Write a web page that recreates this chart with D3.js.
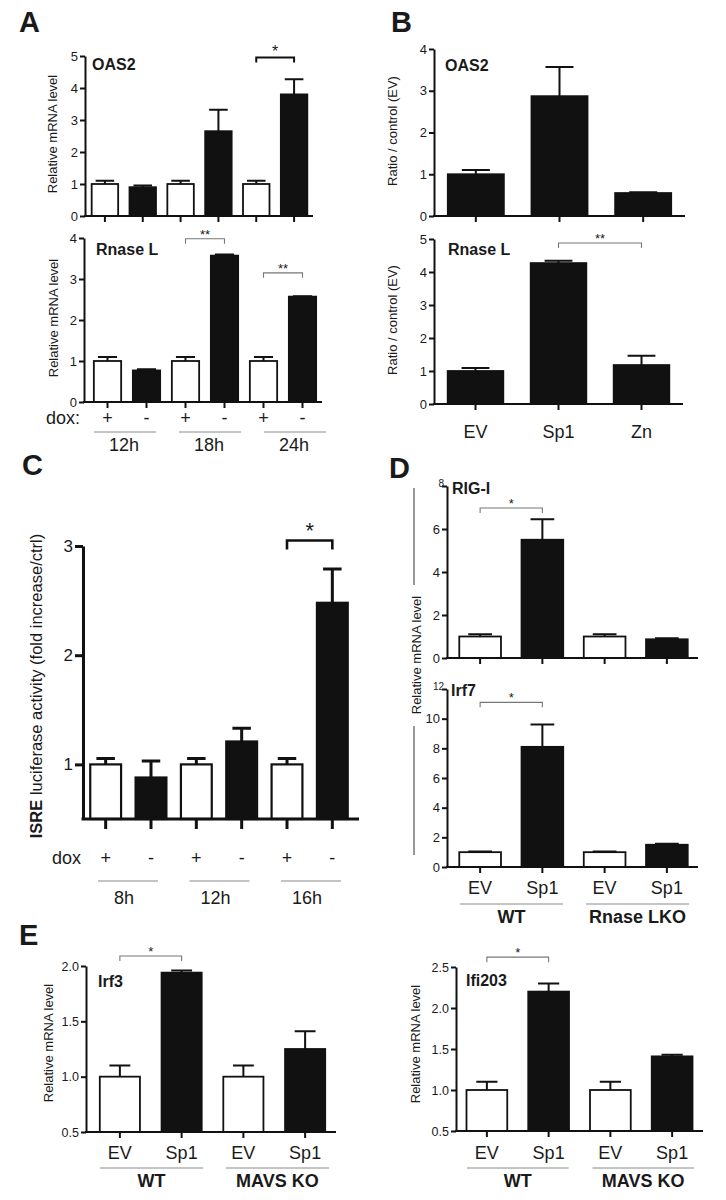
<!DOCTYPE html>
<html>
<head>
<meta charset="utf-8">
<script src="https://cdn.jsdelivr.net/npm/d3@7"></script>
<style>
  body { margin: 0; background: #fff; }
  svg { display: block; }
  text { font-family: "Liberation Sans", Arial, Helvetica, sans-serif; fill: #1a1a1a; }
</style>
</head>
<body>
<div id="fig"></div>
<script>
// ---- data ----
// A
const doxA = ["+", "-", "+", "-", "+", "-"];
const timesA = ["12h", "18h", "24h"];
const oas2A = [1.0, 0.9, 1.0, 2.65, 1.0, 3.8];
const oas2AErr = [0.1, 0.05, 0.1, 0.67, 0.1, 0.47];
const rnaseA = [1.0, 0.77, 1.0, 3.57, 1.0, 2.57];
const rnaseAErr = [0.1, 0.03, 0.1, 0.03, 0.1, 0.01];
// B
const catsB = ["EV", "Sp1", "Zn"];
const oas2B = [1.0, 2.87, 0.55];
const oas2BErr = [0.1, 0.7, 0.02];
const rnaseB = [1.0, 4.27, 1.18];
const rnaseBErr = [0.09, 0.07, 0.28];
// C
const doxC = ["+", "-", "+", "-", "+", "-"];
const timesC = ["8h", "12h", "16h"];
const isreC = [1.0, 0.88, 1.0, 1.21, 1.0, 2.48];
const isreCErr = [0.055, 0.15, 0.055, 0.12, 0.055, 0.31];
// D
const catsD = ["EV", "Sp1", "EV", "Sp1"];
const groupsD = ["WT", "Rnase LKO"];
const rigD = [1.0, 5.5, 1.0, 0.87];
const rigDErr = [0.1, 0.95, 0.1, 0.05];
const irf7D = [1.0, 8.1, 1.0, 1.5];
const irf7DErr = [0.04, 1.5, 0.04, 0.06];
// E
const catsE = ["EV", "Sp1", "EV", "Sp1"];
const groupsE = ["WT", "MAVS KO"];
const irf3E = [1.0, 1.94, 1.0, 1.25];
const irf3EErr = [0.1, 0.02, 0.1, 0.16];
const ifiE = [1.0, 2.2, 1.0, 1.41];
const ifiEErr = [0.1, 0.1, 0.1, 0.02];

// significance brackets: bar index from, to, height (data units), label
const sigOas2A = [{a: 4, b: 5, at: 4.95, label: "*"}];
const sigRnaseA = [{a: 2, b: 3, at: 3.98, label: "**"}, {a: 4, b: 5, at: 3.15, label: "**"}];
const sigRnaseB = [{a: 1, b: 2, at: 4.88, label: "**"}];
const sigC = [{a: 4, b: 5, at: 3.05, label: "*"}];
const sigRigD = [{a: 0, b: 1, at: 6.98, label: "*"}];
const sigIrf7D = [{a: 0, b: 1, at: 11.1, label: "*"}];
const sigIrf3E = [{a: 0, b: 1, at: 2.09, label: "*"}];
const sigIfiE = [{a: 0, b: 1, at: 2.62, label: "*"}];

const width = 726, height = 1200;
const ink = "#111";

const svg = d3.select("#fig").append("svg")
  .attr("width", width)
  .attr("height", height);

const whiteIf = v => (v === "+" || v === "EV") ? "#fff" : ink;

// one bar chart with y axis, bottom axis line, error bars, title and brackets
function drawPanel(p) {
  const x = d3.scaleBand().domain(d3.range(p.vals.length))
    .range(p.xr).paddingInner(p.pad).paddingOuter(p.pad / 2);
  const y = d3.scaleLinear().domain(p.domain).range(p.yr);
  const cx = i => x(i) + x.bandwidth() / 2;
  const base = p.yr[0];
  const g = svg.append("g");

  g.selectAll(".bar").data(p.vals).enter().append("rect")
    .attr("x", (d, i) => x(i))
    .attr("y", d => y(d))
    .attr("width", x.bandwidth())
    .attr("height", d => base - y(d))
    .attr("fill", (d, i) => p.fill(i))
    .attr("stroke", ink)
    .attr("stroke-width", p.bw || 1.8);

  const cap = x.bandwidth() * p.cap;
  g.selectAll(".err").data(p.vals).enter().append("path")
    .attr("d", (d, i) => {
      const t = y(d + p.errs[i]);
      return `M${cx(i)},${y(d)}V${t}M${cx(i) - cap / 2},${t}H${cx(i) + cap / 2}`;
    })
    .attr("fill", "none")
    .attr("stroke", ink)
    .attr("stroke-width", p.lw);

  // y axis
  const ya = g.append("g")
    .attr("transform", `translate(${p.ax},0)`)
    .call(d3.axisLeft(y).tickValues(p.ticks).tickFormat(p.fmt || d3.format("d"))
      .tickSize(p.tick || 5).tickSizeOuter(0).tickPadding(2));
  ya.selectAll("path, line").attr("stroke", ink).attr("stroke-width", p.lw);
  ya.selectAll("text").attr("font-size", p.fs || 13);
  if (p.smallTop) {
    ya.selectAll(".tick text").filter(d => d === p.domain[1])
      .attr("font-size", 10).attr("dy", "0").attr("x", -3);
  }

  // x axis: ticks at bar centres
  const xa = g.append("g")
    .attr("transform", `translate(0,${base})`)
    .call(d3.axisBottom(x).tickFormat("").tickSize(p.xtick || 6).tickSizeOuter(0));
  xa.select(".domain").remove();
  xa.selectAll("line").attr("stroke", ink).attr("stroke-width", p.lw);
  g.append("line")
    .attr("x1", p.ax - p.lw / 2).attr("x2", p.axEnd)
    .attr("y1", base).attr("y2", base)
    .attr("stroke", ink).attr("stroke-width", p.lw);

  if (p.title) {
    g.append("text").attr("x", p.title[1]).attr("y", p.title[2])
      .attr("font-size", 16).attr("font-weight", "bold").text(p.title[0]);
  }

  (p.sig || []).forEach(s => {
    const yb = y(s.at);
    g.append("path")
      .attr("d", `M${cx(s.a)},${yb + p.sigDrop}V${yb}H${cx(s.b)}V${yb + p.sigDrop}`)
      .attr("fill", "none")
      .attr("stroke", p.sigColor)
      .attr("stroke-width", p.sigW);
    g.append("text")
      .attr("x", (cx(s.a) + cx(s.b)) / 2)
      .attr("y", yb + p.starDy)
      .attr("text-anchor", "middle")
      .attr("font-size", p.starFs)
      .text(s.label);
  });

  return {x, y, cx};
}

function rowText(labels, xf, yy, fs, weight) {
  svg.append("g").selectAll("text").data(labels).enter().append("text")
    .attr("x", (d, i) => xf(i))
    .attr("y", yy)
    .attr("text-anchor", "middle")
    .attr("font-size", fs)
    .attr("font-weight", weight || "normal")
    .text(d => d);
}

function groupLines(scale, labels, yy) {
  svg.append("g").selectAll("line").data(labels).enter().append("line")
    .attr("x1", d => scale(d)).attr("x2", d => scale(d) + scale.bandwidth())
    .attr("y1", yy).attr("y2", yy)
    .attr("stroke", "#8a8a8a").attr("stroke-width", 1.2);
}

function yLabel(txt, x, yc, fs) {
  return svg.append("text")
    .attr("transform", `translate(${x},${yc}) rotate(-90)`)
    .attr("text-anchor", "middle")
    .attr("font-size", fs)
    .text(txt);
}

function letter(t, x, y) {
  svg.append("text").attr("x", x).attr("y", y)
    .attr("font-size", 29).attr("font-weight", "bold").text(t);
}

const blackSig = {sigColor: ink, sigW: 2, sigDrop: 5, starDy: -1, starFs: 16};
const graySig = {sigColor: "#777", sigW: 1.1, sigDrop: 5, starDy: 0, starFs: 13};

// ---------- A ----------
letter("A", 19, 32);
drawPanel(Object.assign({
  vals: oas2A, errs: oas2AErr, fill: i => whiteIf(doxA[i]),
  xr: [86, 313], pad: 0.3, ax: 85, axEnd: 313,
  yr: [216, 56], domain: [0, 5], ticks: [0, 1, 2, 3, 4, 5],
  lw: 2, cap: 0.7, title: ["OAS2", 92, 70], sig: sigOas2A
}, blackSig));
yLabel("Relative mRNA level", 57, 134, 13);

const pa2 = drawPanel(Object.assign({
  vals: rnaseA, errs: rnaseAErr, fill: i => whiteIf(doxA[i]),
  xr: [88, 322], pad: 0.3, ax: 84, axEnd: 322,
  yr: [402, 238], domain: [0, 4], ticks: [0, 1, 2, 3, 4],
  lw: 2, cap: 0.7, title: ["Rnase L", 96, 255], sig: sigRnaseA
}, graySig));
yLabel("Relative mRNA level", 58, 318, 13);

svg.append("text").attr("x", 80).attr("y", 424).attr("text-anchor", "end")
  .attr("font-size", 18).text("dox:");
rowText(doxA, pa2.cx, 424, 18);
const gA = d3.scaleBand().domain(timesA).range([94, 326]).paddingInner(0.27);
groupLines(gA, timesA, 432);
rowText(timesA, i => gA(timesA[i]) + gA.bandwidth() / 2 - 1, 451, 18);

// ---------- B ----------
letter("B", 391, 32);
drawPanel(Object.assign({
  vals: oas2B, errs: oas2BErr, fill: () => ink,
  xr: [434, 685], pad: 0.33, ax: 434, axEnd: 685,
  yr: [216, 49], domain: [0, 4], ticks: [0, 1, 2, 3, 4],
  lw: 2, cap: 0.5, title: ["OAS2", 445, 71]
}, graySig));
yLabel("Ratio / control (EV)", 397, 131, 13);

const pb2 = drawPanel(Object.assign({
  vals: rnaseB, errs: rnaseBErr, fill: () => ink,
  xr: [434, 683], pad: 0.33, ax: 434, axEnd: 683,
  yr: [404, 239], domain: [0, 5], ticks: [0, 1, 2, 3, 4, 5],
  lw: 2, cap: 0.5, title: ["Rnase L", 448, 255], sig: sigRnaseB
}, graySig));
yLabel("Ratio / control (EV)", 397, 320, 13);
rowText(catsB, pb2.cx, 438, 18);

// ---------- C ----------
letter("C", 22, 475);
const pc = drawPanel({
  vals: isreC, errs: isreCErr, fill: i => whiteIf(doxC[i]),
  xr: [83, 355], pad: 0.32, ax: 83, axEnd: 359,
  yr: [819, 546], domain: [0.5, 3], ticks: [1, 2, 3],
  lw: 3, bw: 2.2, cap: 0.6, tick: 8, xtick: 10, fs: 17,
  sig: sigC, sigColor: ink, sigW: 2.6, sigDrop: 9, starDy: -3, starFs: 22
});
const cl = yLabel("", 42, 686, 16.5);
cl.append("tspan").attr("font-weight", "bold").text("ISRE");
cl.append("tspan").text(" luciferase activity (fold increase/ctrl)");

svg.append("text").attr("x", 81).attr("y", 864).attr("text-anchor", "end")
  .attr("font-size", 18).text("dox");
rowText(doxC, pc.cx, 864, 18);
const gC = d3.scaleBand().domain(timesC).range([98, 341]).paddingInner(0.344);
groupLines(gC, timesC, 881);
rowText(timesC, i => gC(timesC[i]) + gC.bandwidth() / 2 - 4, 904, 18);

// ---------- D ----------
letter("D", 389, 478);
drawPanel(Object.assign({
  vals: rigD, errs: rigDErr, fill: i => whiteIf(catsD[i]),
  xr: [449, 698], pad: 0.33, ax: 447, axEnd: 698,
  yr: [658, 486], domain: [0, 8], ticks: [0, 2, 4, 6, 8],
  lw: 2, cap: 0.57, smallTop: true, title: ["RIG-I", 452, 494], sig: sigRigD
}, graySig));
const pd2 = drawPanel(Object.assign({
  vals: irf7D, errs: irf7DErr, fill: i => whiteIf(catsD[i]),
  xr: [449, 698], pad: 0.33, ax: 447, axEnd: 698,
  yr: [867, 689], domain: [0, 12], ticks: [0, 2, 4, 6, 8, 10, 12],
  lw: 2, cap: 0.57, smallTop: true, title: ["Irf7", 451, 696], sig: sigIrf7D
}, graySig));
yLabel("Relative mRNA level", 421, 655, 13);
svg.append("line").attr("x1", 414).attr("x2", 414).attr("y1", 488).attr("y2", 585)
  .attr("stroke", "#555").attr("stroke-width", 1.2);
svg.append("line").attr("x1", 414).attr("x2", 414).attr("y1", 726).attr("y2", 855)
  .attr("stroke", "#555").attr("stroke-width", 1.2);
rowText(catsD, pd2.cx, 894, 18);
const gD = d3.scaleBand().domain(groupsD).range([460, 689]).paddingInner(0.183);
groupLines(gD, groupsD, 904);
rowText(groupsD, i => gD(groupsD[i]) + gD.bandwidth() / 2, 923, 18, "bold");

// ---------- E ----------
letter("E", 19, 945);
const pe1 = drawPanel(Object.assign({
  vals: irf3E, errs: irf3EErr, fill: i => whiteIf(catsE[i]),
  xr: [89, 336], pad: 0.35, ax: 86, axEnd: 336,
  yr: [1132, 966], domain: [0.5, 2.0], ticks: [0.5, 1.0, 1.5, 2.0], fmt: d3.format(".1f"),
  lw: 2, cap: 0.52, fs: 12.5, title: ["Irf3", 98, 987], sig: sigIrf3E
}, graySig));
yLabel("Relative mRNA level", 53, 1043, 13);
rowText(catsE, pe1.cx, 1159, 18);
const gE1 = d3.scaleBand().domain(groupsE).range([100, 329]).paddingInner(0.18);
groupLines(gE1, groupsE, 1168);
rowText(groupsE, i => gE1(groupsE[i]) + gE1.bandwidth() / 2, 1187, 18, "bold");

const pe2 = drawPanel(Object.assign({
  vals: ifiE, errs: ifiEErr, fill: i => whiteIf(catsE[i]),
  xr: [456, 703], pad: 0.34, ax: 456, axEnd: 703,
  yr: [1131, 967], domain: [0.5, 2.5], ticks: [0.5, 1.0, 1.5, 2.0, 2.5], fmt: d3.format(".1f"),
  lw: 2, cap: 0.52, fs: 12.5, title: ["Ifi203", 466, 986], sig: sigIfiE
}, graySig));
yLabel("Relative mRNA level", 420, 1044, 13);
rowText(catsE, pe2.cx, 1159, 18);
const gE2 = d3.scaleBand().domain(groupsE).range([467, 694]).paddingInner(0.19);
groupLines(gE2, groupsE, 1168);
rowText(groupsE, i => gE2(groupsE[i]) + gE2.bandwidth() / 2, 1187, 18, "bold");
</script>
</body>
</html>
